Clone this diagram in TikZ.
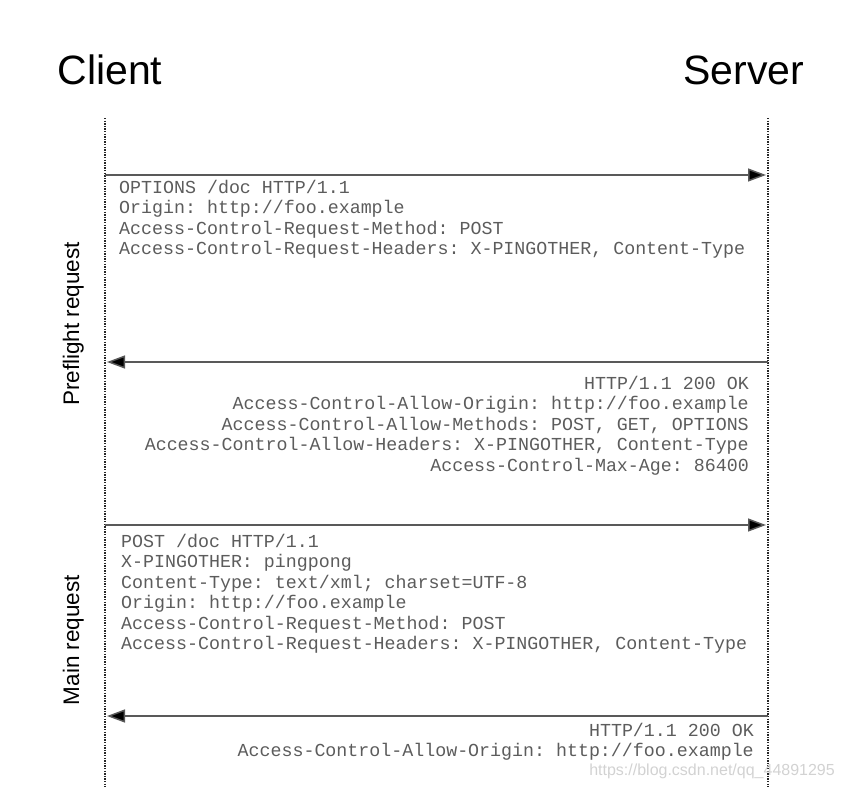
\documentclass[tikz,border=0pt]{standalone}
\usepackage{fontspec}
\setmainfont{Liberation Sans}
\setmonofont{Liberation Mono}
\usepackage{tikz}
\usetikzlibrary{positioning}
\usetikzlibrary{arrows.meta}
\definecolor{hdrgray}{HTML}{5C5C5C}
\definecolor{wmark}{HTML}{D2D2D2}
\tikzset{lifeline/.style={line width=1.3pt, dash pattern=on 1.3pt off 1.3pt, black!85}}
\tikzset{msg/.style={line width=1.5pt, draw=black!65, shorten >=2pt,
  -{Triangle[length=18pt,width=13pt,fill=black]}}}
\tikzset{hdr/.style={inner sep=0pt, text=hdrgray,
  font=\ttfamily\fontsize{18.3}{20.5}\selectfont}}
\tikzset{actor/.style={anchor=base, inner sep=0pt, font=\fontsize{41}{41}\selectfont}}
\tikzset{phase/.style={anchor=base, rotate=90, inner sep=0pt, font=\fontsize{22.5}{22.5}\selectfont}}

\begin{document}
\begin{tikzpicture}[x=1pt,y=-1pt]
\useasboundingbox (0,0) rectangle (844,787);
\node[actor] (client) at (110,84) {Client};
\node[actor] (server) at (744,84) {Server};
\node[phase] (preflight) at (79,324) {Preflight request};
\node[phase] (main) at (79,640) {Main request};
% lifelines
\coordinate (ctop) at (105,118);
\coordinate (cbot) at (105,787);
\coordinate (stop) at (768,118);
\coordinate (sbot) at (768,787);
\draw[lifeline] (ctop) -- (cbot);
\draw[lifeline] (stop) -- (sbot);
% messages
\foreach \n/\y in {1/175,2/362,3/525,4/716} {
\coordinate (c\n) at (105,\y);
\coordinate (s\n) at (768,\y);
}
\draw[msg] (c1) -- (s1);
\draw[msg] (s2) -- (c2);
\draw[msg] (c3) -- (s3);
\draw[msg] (s4) -- (c4);
% headers
\node[hdr, anchor=north west, align=left] (req1) at (119,180) {OPTIONS /doc HTTP/1.1\\
Origin: http://foo.example\\
Access-Control-Request-Method: POST\\
Access-Control-Request-Headers: X-PINGOTHER, Content-Type};
\node[hdr, anchor=north east, align=right] (resp1) at (749,376) {HTTP/1.1 200 OK\\
Access-Control-Allow-Origin: http://foo.example\\
Access-Control-Allow-Methods: POST, GET, OPTIONS\\
Access-Control-Allow-Headers: X-PINGOTHER, Content-Type\\
Access-Control-Max-Age: 86400};
\node[hdr, anchor=north west, align=left] (req2) at (121,534) {POST /doc HTTP/1.1\\
X-PINGOTHER: pingpong\\
Content-Type: text/xml; charset=UTF-8\\
Origin: http://foo.example\\
Access-Control-Request-Method: POST\\
Access-Control-Request-Headers: X-PINGOTHER, Content-Type};
\node[hdr, anchor=north east, align=right] (resp2) at (754,723) {HTTP/1.1 200 OK\\
Access-Control-Allow-Origin: http://foo.example};
%\node watermark
\node[anchor=base east, inner sep=0pt, text=wmark, font=\fontsize{16}{16}\selectfont] (wm) at (835,775) {https://blog.csdn.net/qq\_44891295};
\end{tikzpicture}
\end{document}
